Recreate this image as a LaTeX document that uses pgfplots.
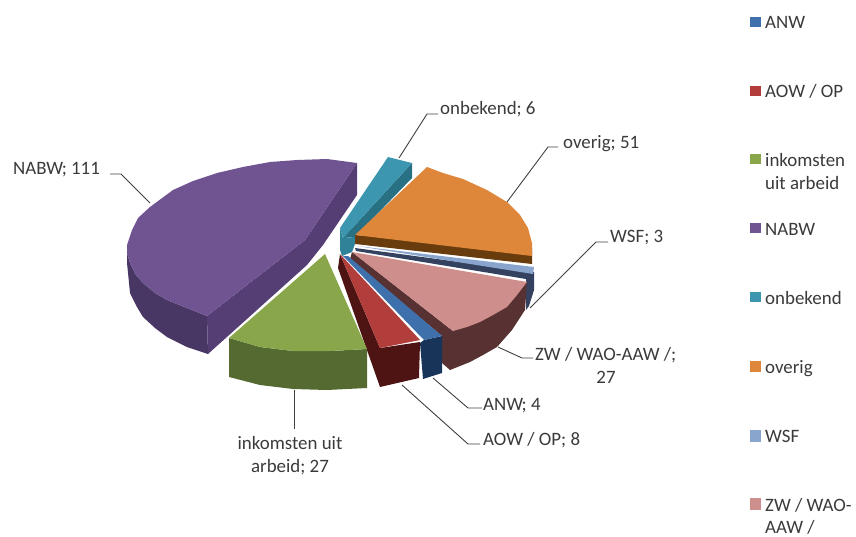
\documentclass[border=0pt]{standalone}
\usepackage{pgfplots}
\pgfplotsset{compat=1.18}
\usepackage{fontspec}
\setmainfont{Carlito}
\definecolor{txt}{HTML}{3A3A3A}
\definecolor{lead}{HTML}{404040}
\definecolor{cP}{RGB}{112,84,146}\definecolor{cPa}{RGB}{72,54,100}\definecolor{cPb}{RGB}{84,62,116}
\definecolor{cT}{RGB}{60,150,175}\definecolor{cTa}{RGB}{40,112,132}\definecolor{cTb}{RGB}{48,130,152}
\definecolor{cO}{RGB}{222,134,58}\definecolor{cOa}{RGB}{104,60,12}
\definecolor{cW}{RGB}{138,165,205}\definecolor{cWa}{RGB}{52,66,96}
\definecolor{cK}{RGB}{206,142,140}\definecolor{cKa}{RGB}{88,50,50}
\definecolor{cB}{RGB}{62,112,172}\definecolor{cBa}{RGB}{24,52,88}
\definecolor{cR}{RGB}{178,62,60}\definecolor{cRa}{RGB}{78,20,20}
\definecolor{cG}{RGB}{137,166,74}\definecolor{cGa}{RGB}{84,106,48}
\tikzset{lbl/.style={font=\fontsize{18.9}{22}\selectfont,text=txt,inner sep=0pt},
  ldr/.style={draw=lead,line width=0.9pt}}
\begin{document}
\begin{tikzpicture}
\begin{axis}[scale only axis,width=856pt,height=536pt,xmin=0,xmax=856,ymin=0,ymax=536,y dir=reverse,
  hide axis,clip=false,
  every axis plot/.append style={draw=none,line join=round}]
\path[use as bounding box] (axis cs:0,0) rectangle (axis cs:856,536);
% purple
\addplot[fill=cPa] coordinates {(127,245)(127,263)(130,293)(137,307)(143,317)(155,328)(167,337)(187,347)(208,354)(207,316)(187,308)(167,300)(155,293)(143,283)(136,275)(130,263)(127,253)} --cycle;
\addplot[fill=cPb] coordinates {(357,163)(305,240)(207,316)(208,354)(307,265)(323,245)(357,195)} --cycle;
\addplot[fill=cP] coordinates {(357,163)(327,159)(297,160)(270,162)(243,167)(217,173)(193,181)(173,190)(150,207)(138,218)(132,230)(127,245)(127,253)(130,263)(136,275)(143,283)(155,293)(167,300)(187,308)(207,316)(305,240)} --cycle;
% teal
\addplot[fill=cTa] coordinates {(412,163)(412,178)(355,237)(343,238)} --cycle;
\addplot[fill=cTb] coordinates {(340,228)(343,238)(355,237)(355,244)(352,252)(342,256)(340,250)} --cycle;
\addplot[fill=cT] coordinates {(388,157)(412,163)(343,238)(340,228)} --cycle;
% orange
\addplot[fill=cOa] coordinates {(355,235)(355,244)(532,264)(532,248)} --cycle;
\addplot[fill=cO] coordinates {(355,235)(427,167)(443,173)(463,179)(487,190)(507,202)(520,215)(528,228)(532,243)(532,256)} --cycle;
% WSF
\addplot[fill=cWa] coordinates {(355,248)(356,251)(526,279)(526,310)(529,306)(534,290)(534,272)} --cycle;
\addplot[fill=cW] coordinates {(357,246)(534,267)(533,274)} --cycle;
% pink
\addplot[fill=cKa] coordinates {(352,252)(350,259)(442,336)(442,363)(450,370)(470,362)(483,355)(497,347)(512,330)(525,310)(527,282)(453,331)} --cycle;
\addplot[fill=cK] coordinates {(352,252)(527,282)(517,295)(507,307)(493,315)(480,322)(467,327)(453,331)} --cycle;
% ANW
\addplot[fill=cBa] coordinates {(424,340)(442,336)(442,373)(423,379)(420,343)} --cycle;
\addplot[fill=cB] coordinates {(343,256)(348,256)(442,336)(424,340)} --cycle;
% AOW
\addplot[fill=cRa] coordinates {(340,254)(380,348)(420,342)(419,378)(380,387)(368,353)(338,268)} --cycle;
\addplot[fill=cR] coordinates {(340,254)(420,340)(380,348)} --cycle;
% green
\addplot[fill=cGa] coordinates {(229,338)(229,377)(260,385)(293,389)(327,390)(367,388)(367,349)(330,351)(293,351)(260,347)} --cycle;
\addplot[fill=cG] coordinates {(325,254)(229,338)(260,347)(293,351)(330,351)(367,349)} --cycle;
% leader lines
\addplot[ldr] coordinates {(438,114)(427,114)(399,158)};
\addplot[ldr] coordinates {(558,147)(548,147)(507,202)};
\addplot[ldr] coordinates {(608,242)(596,242)(530,308)};
\addplot[ldr] coordinates {(533,358)(522,358)(498,347)};
\addplot[ldr] coordinates {(482,408)(468,408)(433,378)};
\addplot[ldr] coordinates {(480,444)(468,444)(402,385)};
\addplot[ldr] coordinates {(294,390)(294,429)};
\addplot[ldr] coordinates {(110,174)(121,174)(150,203)};
% legend keys
\addplot[fill=cB] coordinates {(750,17)(761,17)(761,27)(750,27)} --cycle;
\addplot[fill=cR] coordinates {(750,86)(761,86)(761,96)(750,96)} --cycle;
\addplot[fill=cG] coordinates {(750,154)(761,154)(761,164)(750,164)} --cycle;
\addplot[fill=cP] coordinates {(750,223)(761,223)(761,233)(750,233)} --cycle;
\addplot[fill=cT] coordinates {(750,292)(761,292)(761,302)(750,302)} --cycle;
\addplot[fill=cO] coordinates {(750,361)(761,361)(761,372)(750,372)} --cycle;
\addplot[fill=cW] coordinates {(750,430)(761,430)(761,442)(750,442)} --cycle;
\addplot[fill=cK] coordinates {(750,498)(761,498)(761,510)(750,510)} --cycle;
% legend text
\node[lbl,anchor=base west] at (axis cs:765,28) {ANW};
\node[lbl,anchor=base west] at (axis cs:765,97) {AOW / OP};
\node[lbl,anchor=base west] at (axis cs:765,166) {inkomsten};
\node[lbl,anchor=base west] at (axis cs:765,189) {uit arbeid};
\node[lbl,anchor=base west] at (axis cs:765,235) {NABW};
\node[lbl,anchor=base west] at (axis cs:765,304) {onbekend};
\node[lbl,anchor=base west] at (axis cs:765,373) {overig};
\node[lbl,anchor=base west] at (axis cs:765,442) {WSF};
\node[lbl,anchor=base west] at (axis cs:765,511) {ZW / WAO-};
\node[lbl,anchor=base west] at (axis cs:765,533) {AAW /};
% data labels
\node[lbl,anchor=base west] at (axis cs:13,174) {NABW; 111};
\node[lbl,anchor=base west] at (axis cs:440,114) {onbekend; 6};
\node[lbl,anchor=base west] at (axis cs:563,148) {overig; 51};
\node[lbl,anchor=base west] at (axis cs:610,242) {WSF; 3};
\node[lbl,anchor=base west] at (axis cs:535,360) {ZW / WAO-AAW /;};
\node[lbl,anchor=base] at (axis cs:606,383) {27};
\node[lbl,anchor=base west] at (axis cs:483,410) {ANW; 4};
\node[lbl,anchor=base west] at (axis cs:483,445) {AOW / OP; 8};
\node[lbl,anchor=base] at (axis cs:290,449) {inkomsten uit};
\node[lbl,anchor=base] at (axis cs:290,472) {arbeid; 27};
\end{axis}
\end{tikzpicture}
\end{document}
